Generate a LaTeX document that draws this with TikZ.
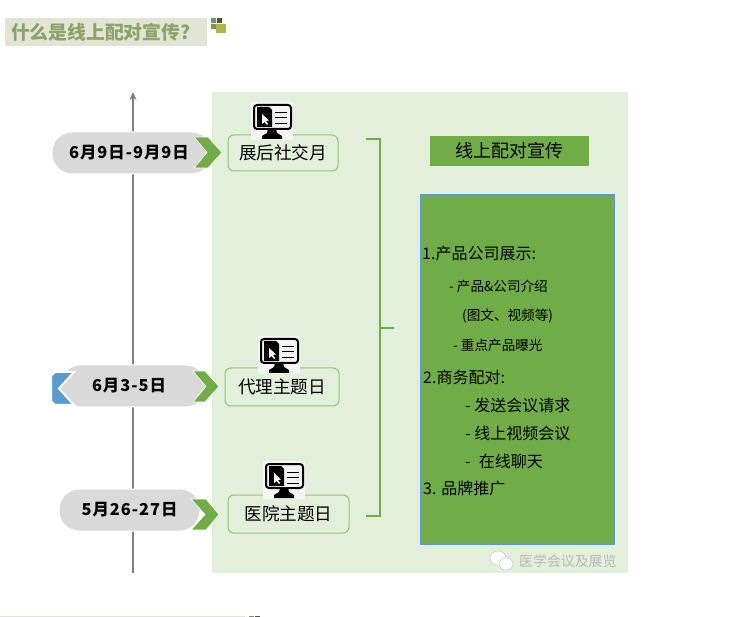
\documentclass[tikz,border=0pt]{standalone}
\usepackage{fontspec}
\usetikzlibrary{arrows.meta}
\setmainfont{Noto Sans CJK SC}
\newfontfamily\datefont[LetterSpace=6]{Noto Sans CJK SC}
\definecolor{panelgreen}{HTML}{E2EFDA}
\definecolor{leafgreen}{HTML}{70AD47}
\definecolor{olivetext}{HTML}{8BA368}
\definecolor{titleband}{HTML}{E2E5D6}
\definecolor{pillgray}{HTML}{D9D9D9}
\definecolor{axisgray}{HTML}{808080}
\definecolor{sideblue}{HTML}{5B9BD5}
\tikzset{
  px/.style={font=\fontsize{#1}{#1}\selectfont},
  pill/.style={draw=white,line width=1pt,fill=pillgray,rounded corners=20pt,minimum height=42pt,inner sep=0pt,font=\datefont\fontsize{16.4}{16}\selectfont\bfseries},
  event/.style={draw=leafgreen!75,line width=1pt,fill=panelgreen,rounded corners=6pt,inner sep=0pt,font=\fontsize{17.6}{17}\selectfont},
  chevron/.style={fill=leafgreen,draw=white,line width=.6pt},
  item/.style={anchor=west,inner sep=0pt},
  monitor/.pic={
    \fill[white!96!black] (-21,-19) rectangle (21,19);
    \draw[black,line width=2pt,rounded corners=3pt] (-18,-16) rectangle (19,8);
    \fill[black] (-15,-14) -- (-3,-14) -- (0,-11) -- (0,6) -- (-15,6) -- cycle;
    \fill[white] (-10,-7) -- (-10,3) -- (-7.5,1) -- (-5,4) -- (-4,3) -- (-6,0) -- (-3,-.5) -- cycle;
    \draw[black,line width=1pt] (3,-8) -- (15,-8) (3,-3) -- (15,-3) (3,3) -- (15,3);
    \fill[black] (-4,8) -- (4,8) -- (5,12) -- (10,15) -- (10,18) -- (-10,18) -- (-10,15) -- (-5,12) -- cycle;
  }
}
\begin{document}
\begin{tikzpicture}[x=1pt,y=-1pt]
  \useasboundingbox (0,0) rectangle (731,617);

  \fill[titleband] (5,18) rectangle (207,46);
  \node[anchor=west,inner sep=0pt,text=olivetext,font=\fontsize{18.8}{19}\selectfont\bfseries] (title) at (11,32) {什么是线上配对宣传?};
  \fill[olivetext!90!black] (211,18) rectangle (216,23) (211,24) rectangle (216,29);
  \fill[olivetext!55!black] (216.5,18) rectangle (222,23);
  \fill[olivetext!40!yellow!60!gray] (216,24) rectangle (226,33);

  \fill[panelgreen] (212,92) rectangle (628,573);

  \coordinate (axistail) at (133,573);
  \coordinate (axishead) at (133,92);
  \draw[-{Stealth[width=7pt,length=8pt]},axisgray,line width=1.5pt] (axistail) -- (axishead);

  \node[pill,minimum width=146pt] (pillmid) at (133,386) {6月3-5日\kern8pt};
  \node[pill,minimum width=160pt] (pilljun) at (132,153) {6月9日-9月9日\kern6pt};
  \node[pill,minimum width=141pt] (pillmay) at (129.5,510) {5月26-27日};

  \fill[chevron,fill=sideblue,line width=2pt] (74,372) -- (55,372) -- (51,376) -- (51,401) -- (55,405) -- (74,405) -- (59,388.5) -- cycle;
  \fill[chevron] (194,137) -- (208,137) -- (222,152.5) -- (208,168) -- (194,168) -- (207,152.5) -- cycle;
  \fill[chevron] (193,371) -- (205,371) -- (219,386.5) -- (205,402) -- (193,402) -- (206,386.5) -- cycle;
  \fill[chevron] (191,499) -- (206,499) -- (219,514.5) -- (206,530) -- (191,530) -- (205,514.5) -- cycle;

  \node[event,minimum width=110pt,minimum height=36pt] (eventsocial) at (283,153) {展后社交月};
  \node[event,minimum width=114pt,minimum height=38pt] (eventagent) at (282,387) {代理主题日};
  \node[event,minimum width=121pt,minimum height=38pt] (eventhospital) at (288.5,514) {医院主题日};

  \pic at (272,121) {monitor};
  \pic at (279,355) {monitor};
  \pic at (284,480) {monitor};

  \coordinate (bracetop) at (366,139);
  \coordinate (bracetopbend) at (380,139);
  \coordinate (bracebottombend) at (380,516);
  \coordinate (bracebottom) at (366,516);
  \coordinate (bracemid) at (380,328);
  \coordinate (bracetip) at (394,328);
  \draw[leafgreen,line width=1.5pt] (bracetop) -- (bracetopbend) -- (bracebottombend) -- (bracebottom);
  \draw[leafgreen,line width=1.5pt] (bracemid) -- (bracetip);

  \node[fill=leafgreen,minimum width=159pt,minimum height=30pt,inner sep=0pt,px=18] (headline) at (509.5,151) {线上配对宣传};
  \node[draw=sideblue,line width=1pt,fill=leafgreen,minimum width=194pt,minimum height=350pt] (content) at (517.5,369.5) {};

  \node[item,px=16] (itema) at (422,253) {1.产品公司展示:};
  \node[item,px=13.6] (itemaa) at (449,286) {- 产品\&公司介绍};
  \node[item,px=13.6] (itemab) at (462,316) {(图文、视频等)};
  \node[item,px=13.6] (itemac) at (453,345) {- 重点产品曝光};
  \node[item,px=16] (itemb) at (423,377) {2.商务配对:};
  \node[item,px=16] (itemba) at (465,405) {- 发送会议请求};
  \node[item,px=16] (itembb) at (465,433) {- 线上视频会议};
  \node[item,px=16] (itembc) at (465,461) {-\kern8pt 在线聊天};
  \node[item,px=16] (itemc) at (423,488) {3. 品牌推广};

  \fill[white,draw=gray!60,line width=.3pt] (498,558) ellipse (8 and 7);
  \fill[white,draw=gray!60,line width=.3pt] (506,564) ellipse (7 and 6);
  \node[item,px=13.9,text=white!45!gray] (mark) at (519,561) {医学会议及展览};

  \fill[titleband] (0,616) rectangle (245,617);
  \fill[olivetext!90!black] (249,616) rectangle (254,617);
  \fill[olivetext!55!black] (255,616) rectangle (260,617);
\end{tikzpicture}
\end{document}
